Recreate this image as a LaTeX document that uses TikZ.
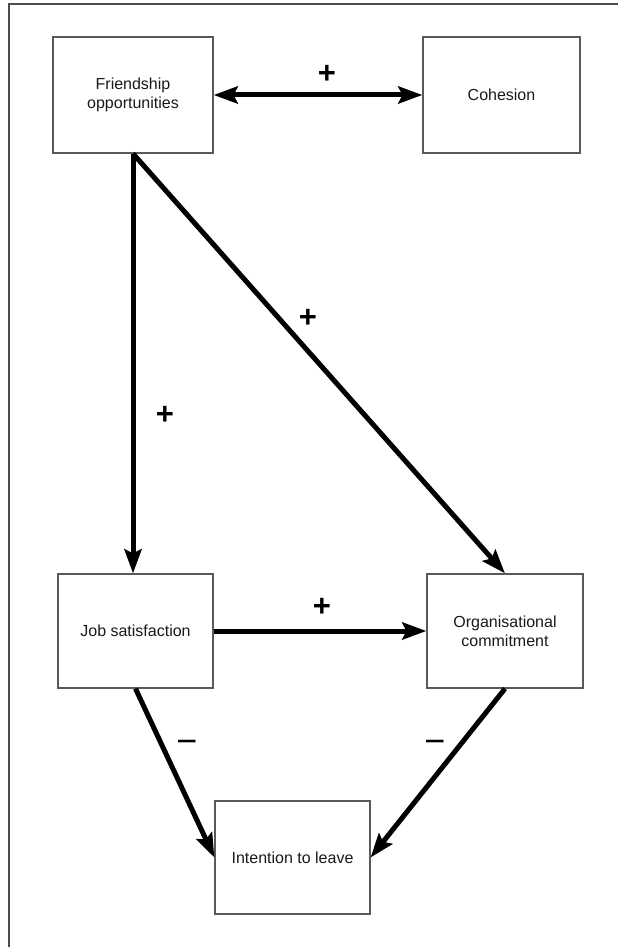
\documentclass[tikz,border=0pt]{standalone}
\usepackage{fontspec}
\setmainfont{Liberation Sans}
\usetikzlibrary{arrows.meta}
\begin{document}
\begin{tikzpicture}[x=1pt,y=-1pt,
  box/.style={draw=black!65, line width=1.2pt, rectangle, inner sep=0pt,
    align=center, text=black!90, font=\fontsize{16}{19}\selectfont},
  link/.style={line width=5pt, black, line join=miter,
    -{Stealth[length=24pt,width=17pt,inset=4pt]}},
  biglink/.style={line width=5pt, black,
    {Stealth[length=24pt,width=17pt,inset=4pt]}-{Stealth[length=24pt,width=17pt,inset=4pt]}},
  sign/.style={font=\bfseries\fontsize{31}{31}\selectfont, inner sep=0pt},
  minus/.style={font=\fontsize{36}{36}\selectfont, inner sep=0pt},
  frame/.style={draw=black!70, line width=1.4pt}]
  % page extent
  \useasboundingbox (0,0) rectangle (618,947);
  % open frame: top and left rules
  \coordinate (ftr) at (618,4);
  \coordinate (ftl) at (9,4);
  \coordinate (fbl) at (9,947);
  \draw[frame] (ftr) -- (ftl) -- (fbl);

  % constructs
  \node[box, minimum width=160pt, minimum height=116pt] (fr) at (133,95) {Friendship\\opportunities};
  \node[box, minimum width=157pt, minimum height=116pt] (co) at (501.5,95) {Cohesion};
  \node[box, minimum width=155pt, minimum height=114pt] (js) at (135.5,631) {Job satisfaction};
  \node[box, minimum width=156pt, minimum height=114pt] (oc) at (505,631) {Organisational\\commitment};
  \node[box, minimum width=155pt, minimum height=113pt] (il) at (292.5,857.5) {Intention to leave};

  % relationships
  \draw[biglink] (fr.east) -- (co.west);
  \draw[link] (fr.south) -- (fr.south |- js.north);
  \draw[link] (fr.south) -- (oc.north);
  \draw[link] (js.east) -- (oc.west);
  \draw[link] (js.south) -- (il.west);
  \draw[link] (oc.south) -- (il.east);

  % signs of the effects
  \node[sign] (s1) at (327,74) {+};
  \node[sign] (s2) at (165,415) {+};
  \node[sign] (s3) at (308,318) {+};
  \node[sign] (s4) at (322,607) {+};
  \node[minus] (s5) at (187,747) {−};
  \node[minus] (s6) at (435,747) {−};
\end{tikzpicture}
\end{document}
